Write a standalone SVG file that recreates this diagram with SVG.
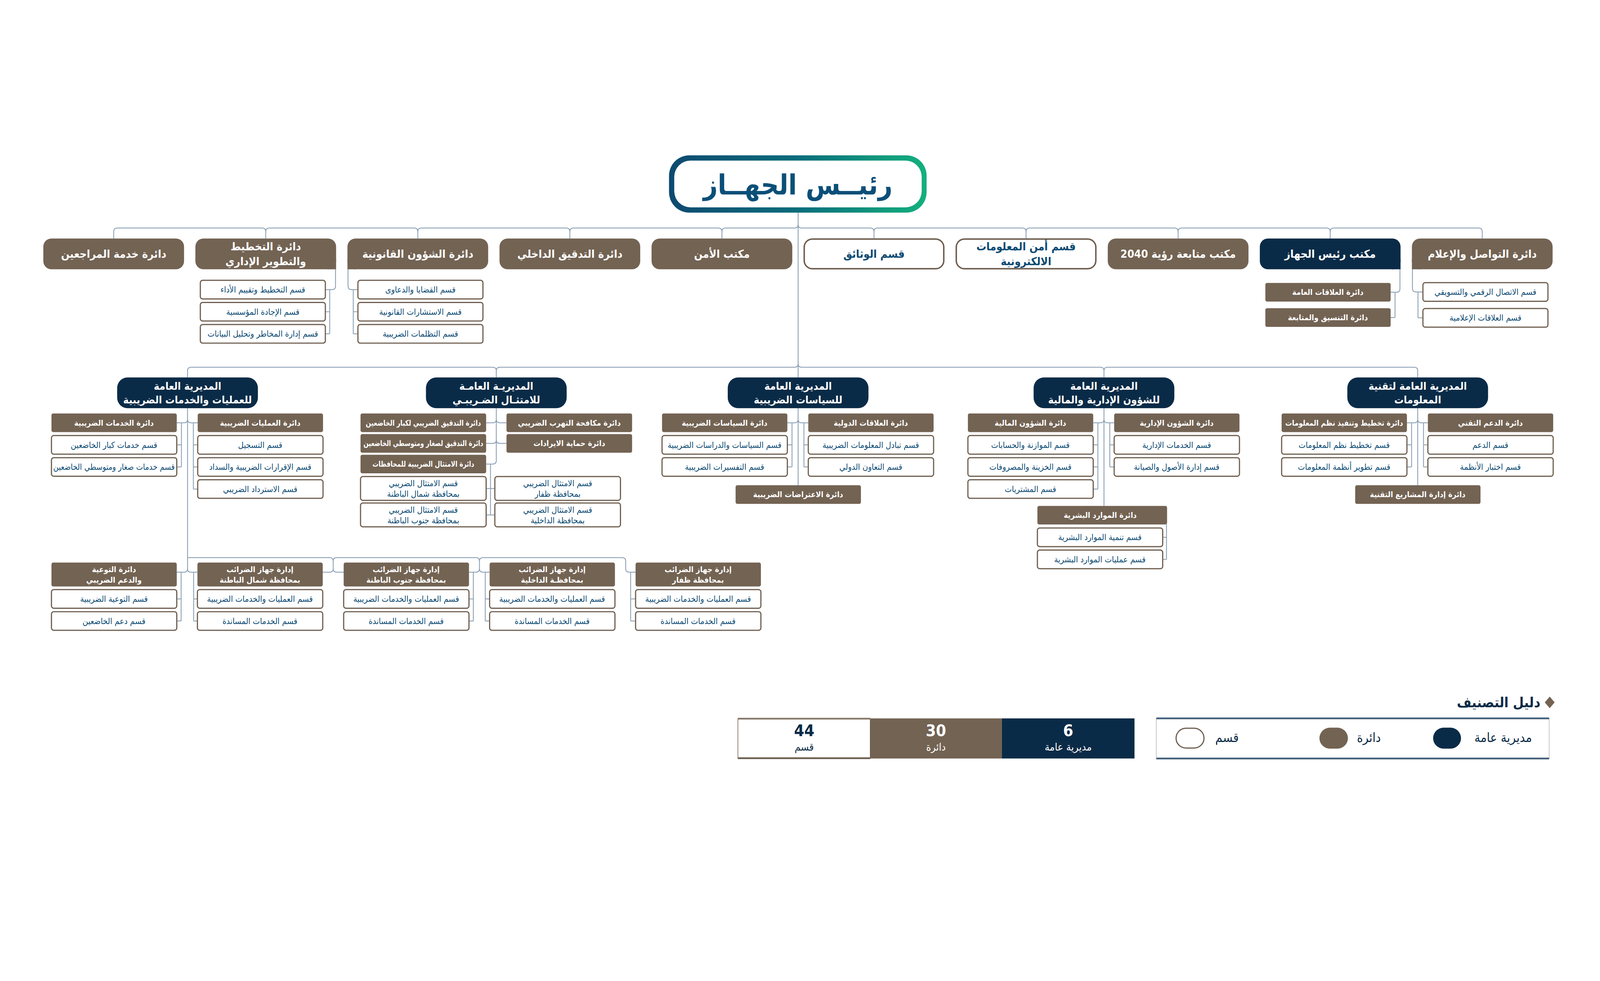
<svg xmlns="http://www.w3.org/2000/svg" width="5503" height="2512" viewBox="0 0 5503 2512" style="width:100%;height:100%">
<defs>
<linearGradient id="tg" x1="0" y1="0" x2="1" y2="0">
<stop offset="0" stop-color="#0d4a70"/>
<stop offset="0.5" stop-color="#0b6d7c"/>
<stop offset="1" stop-color="#14b07d"/>
</linearGradient>
<style>
.t{font-family:"DejaVu Sans Condensed","DejaVu Sans",sans-serif;text-anchor:middle;dominant-baseline:central}
.w{fill:#ffffff}
.bl{fill:#0b4a73}
.nv{fill:#0a2b47}
.br{fill:#736353}
.f1{font-size:38px;font-weight:bold}
.f2{font-size:36px;font-weight:bold}
.f3{font-size:27px;font-weight:bold}
.f4{font-size:29px}
.sec{fill:#ffffff;stroke:#6e5e4f;stroke-width:4}
.big{fill:#ffffff;stroke:#6e5e4f;stroke-width:5}
.ln{fill:none;stroke:#8ea2b6;stroke-width:3}
.lg{font-size:44px}
</style>
</defs>
<rect width="5503" height="2512" fill="#ffffff"/>

<g id="connectors" class="ln">
<path d="M2745,300 V868"/>
<path d="M391,389 V365 Q391,353 403,353 H902 Q914,353 914,365 V389 M914,365 Q914,353 926,353 H1425 Q1437,353 1437,365 V389 M1437,365 Q1437,353 1449,353 H1948 Q1960,353 1960,365 V389 M1960,365 Q1960,353 1972,353 H2471 Q2483,353 2483,365 V389 M2483,365 Q2483,353 2495,353 H2733 Q2745,353 2745,341 M2745,341 Q2745,353 2757,353 H2994 Q3006,353 3006,365 V389 M3006,365 Q3006,353 3018,353 H3517 Q3529,353 3529,365 V389 M3529,365 Q3529,353 3541,353 H4040 Q4052,353 4052,365 V389 M4052,365 Q4052,353 4064,353 H4563 Q4575,353 4575,365 V389 M4575,365 Q4575,353 4587,353 H5086 Q5098,353 5098,365 V389"/>
<path d="M1154,495 V553 Q1154,565 1142,565 H1119 M1134,565 V717 M1134,641 H1119 M1134,717 H1119"/>
<path d="M1197,495 V553 Q1197,565 1209,565 H1231 M1215,565 V717 M1215,641 H1231 M1215,717 H1231"/>
<path d="M4815,495 V562 Q4815,574 4803,574 H4783 M4798,574 V661 M4798,661 H4783"/>
<path d="M4858,495 V561 Q4858,573 4870,573 H4894 M4877,573 V662 M4877,662 H4894"/>
<path d="M645,867 V844 Q645,832 657,832 H1695 Q1707,832 1707,844 V867 M1707,844 Q1707,832 1719,832 H2733 Q2745,832 2745,820 M2745,820 Q2745,832 2757,832 H3785 Q3797,832 3797,844 V867 M3797,844 Q3797,832 3809,832 H4864 Q4876,832 4876,844 V867"/>
<path d="M645,973 V1525 Q645,1537 633,1537 H608 M645,1525 Q645,1537 657,1537 H679"/>
<path d="M645,1011 Q645,1023 633,1023 H608 M645,1011 Q645,1023 657,1023 H680"/>
<path d="M624,1023 V1175 M624,1099 H608 M624,1175 H608 M665,1023 V1251 M665,1099 H680 M665,1175 H680 M665,1251 H680"/>
<path d="M645,1487 H1134 Q1146,1487 1146,1499 V1525 Q1146,1537 1134,1537 H1110 M1146,1525 Q1146,1537 1158,1537 H1182 M1146,1499 Q1146,1487 1158,1487 H1637 Q1649,1487 1649,1499 V1525 Q1649,1537 1637,1537 H1613 M1649,1525 Q1649,1537 1661,1537 H1684 M1649,1499 Q1649,1487 1661,1487 H2140 Q2152,1487 2152,1499 V1525 Q2152,1537 2164,1537 H2186"/>
<path d="M623,1537 V1705 M623,1629 H608 M623,1705 H608"/>
<path d="M666,1537 V1705 M666,1629 H679 M666,1705 H679"/>
<path d="M1628,1537 V1705 M1628,1629 H1613 M1628,1705 H1613"/>
<path d="M1669,1537 V1705 M1669,1629 H1684 M1669,1705 H1684"/>
<path d="M2169,1537 V1705 M2169,1629 H2186 M2169,1705 H2186"/>
<path d="M1707,973 V1153 Q1707,1165 1695,1165 H1672 M1707,1011 Q1707,1023 1695,1023 H1672 M1707,1011 Q1707,1023 1719,1023 H1742 M1707,1082 Q1707,1094 1695,1094 H1672 M1707,1082 Q1707,1094 1719,1094 H1742"/>
<path d="M1687,1165 V1340 M1672,1249 H1702 M1672,1340 H1702"/>
<path d="M2745,973 V1238 M2745,1011 Q2745,1023 2733,1023 H2708 M2745,1011 Q2745,1023 2757,1023 H2780"/>
<path d="M2724,1023 V1175 M2724,1099 H2708 M2724,1175 H2708 M2765,1023 V1175 M2765,1099 H2780 M2765,1175 H2780"/>
<path d="M3797,973 V1309 M3797,1011 Q3797,1023 3785,1023 H3760 M3797,1011 Q3797,1023 3809,1023 H3832"/>
<path d="M3776,1023 V1251 M3776,1099 H3760 M3776,1175 H3760 M3776,1251 H3760 M3817,1023 V1175 M3817,1099 H3832 M3817,1175 H3832"/>
<path d="M4012,1372 V1493 M4012,1417 H3999 M4012,1493 H3999"/>
<path d="M4876,973 V1238 M4876,1011 Q4876,1023 4864,1023 H4839 M4876,1011 Q4876,1023 4888,1023 H4911"/>
<path d="M4855,1023 V1175 M4855,1099 H4839 M4855,1175 H4839 M4896,1023 V1175 M4896,1099 H4911 M4896,1175 H4911"/>
</g>

<g id="head">
<rect x="2301" y="103" width="886" height="197" rx="70" fill="url(#tg)"/>
<rect x="2319" y="121" width="851" height="161" rx="56" fill="#ffffff"/>
<text class="t" x="2744" y="205" style="font-size:96px;font-weight:bold;fill:#0b4f78">رئيــس الجهــاز</text>
</g>

<g id="n-clients"><rect x="149" y="389" width="484" height="106" rx="28" class="br"/><text class="t w f1" x="391" y="442">دائرة خدمة المراجعين</text></g>
<g id="n-planning"><rect x="672" y="389" width="484" height="106" rx="28" class="br"/><rect x="1126" y="460" width="30" height="35" class="br"/><text class="t w f1" x="914" y="417">دائرة التخطيط</text><text class="t w f1" x="914" y="468">والتطوير الإداري</text></g>
<g id="n-legal"><rect x="1195" y="389" width="484" height="106" rx="28" class="br"/><rect x="1195" y="460" width="30" height="35" class="br"/><text class="t w f1" x="1437" y="442">دائرة الشؤون القانونية</text></g>
<g id="n-audit"><rect x="1718" y="389" width="484" height="106" rx="28" class="br"/><text class="t w f1" x="1960" y="442">دائرة التدقيق الداخلي</text></g>
<g id="n-security"><rect x="2241" y="389" width="484" height="106" rx="28" class="br"/><text class="t w f1" x="2483" y="442">مكتب الأمن</text></g>
<g id="n-docs"><rect x="2766" y="391" width="480" height="102" rx="28" class="big"/><text class="t bl f1" x="3006" y="442">قسم الوثائق</text></g>
<g id="n-infosec"><rect x="3289" y="391" width="480" height="102" rx="28" class="big"/><text class="t bl f1" x="3529" y="417">قسم أمن المعلومات</text><text class="t bl f1" x="3529" y="468">الالكترونية</text></g>
<g id="n-vision"><rect x="3810" y="389" width="484" height="106" rx="28" class="br"/><text class="t w f1" x="4052" y="442">مكتب متابعة رؤية 2040</text></g>
<g id="n-office"><rect x="4333" y="389" width="484" height="106" rx="28" class="nv"/><rect x="4787" y="460" width="30" height="35" class="nv"/><text class="t w f1" x="4575" y="442">مكتب رئيس الجهاز</text></g>
<g id="n-comms"><rect x="4856" y="389" width="484" height="106" rx="28" class="br"/><rect x="4856" y="460" width="30" height="35" class="br"/><text class="t w f1" x="5098" y="442">دائرة التواصل والإعلام</text></g>

<g id="s-plan1"><rect x="689" y="533" width="430" height="64" rx="8" class="sec"/><text class="t bl f4" x="904" y="565">قسم التخطيط وتقييم الأداء</text></g>
<g id="s-plan2"><rect x="689" y="609" width="430" height="64" rx="8" class="sec"/><text class="t bl f4" x="904" y="641">قسم الإجادة المؤسسية</text></g>
<g id="s-plan3"><rect x="689" y="685" width="430" height="64" rx="8" class="sec"/><text class="t bl f4" x="904" y="717">قسم إدارة المخاطر وتحليل البيانات</text></g>
<g id="s-legal1"><rect x="1231" y="533" width="430" height="64" rx="8" class="sec"/><text class="t bl f4" x="1446" y="565">قسم القضايا والدعاوى</text></g>
<g id="s-legal2"><rect x="1231" y="609" width="430" height="64" rx="8" class="sec"/><text class="t bl f4" x="1446" y="641">قسم الاستشارات القانونية</text></g>
<g id="s-legal3"><rect x="1231" y="685" width="430" height="64" rx="8" class="sec"/><text class="t bl f4" x="1446" y="717">قسم التظلمات الضريبية</text></g>
<g id="s-office1"><rect x="4352" y="542" width="431" height="64" rx="6" class="br"/><text class="t w f3" x="4567" y="574">دائرة العلاقات العامة</text></g>
<g id="s-office2"><rect x="4352" y="629" width="431" height="64" rx="6" class="br"/><text class="t w f3" x="4567" y="661">دائرة التنسيق والمتابعة</text></g>
<g id="s-comms1"><rect x="4894" y="541" width="430" height="64" rx="8" class="sec"/><text class="t bl f4" x="5109" y="573">قسم الاتصال الرقمي والتسويقي</text></g>
<g id="s-comms2"><rect x="4894" y="630" width="430" height="64" rx="8" class="sec"/><text class="t bl f4" x="5109" y="662">قسم العلاقات الإعلامية</text></g>

<g id="gd-ops"><rect x="403" y="867" width="484" height="106" rx="36" class="nv"/><text class="t w f2" x="645" y="897">المديرية العامة</text><text class="t w f2" x="645" y="943">للعمليات والخدمات الضريبية</text></g>
<g id="gd-comp"><rect x="1465" y="867" width="484" height="106" rx="36" class="nv"/><text class="t w f2" x="1707" y="897">المديريـة العامـة</text><text class="t w f2" x="1707" y="943">للامتثـال الضـريبـي</text></g>
<g id="gd-pol"><rect x="2503" y="867" width="484" height="106" rx="36" class="nv"/><text class="t w f2" x="2745" y="897">المديرية العامة</text><text class="t w f2" x="2745" y="943">للسياسات الضريبية</text></g>
<g id="gd-adm"><rect x="3555" y="867" width="484" height="106" rx="36" class="nv"/><text class="t w f2" x="3797" y="897">المديرية العامة</text><text class="t w f2" x="3797" y="943">للشؤون الإدارية والمالية</text></g>
<g id="gd-it"><rect x="4634" y="867" width="484" height="106" rx="36" class="nv"/><text class="t w f2" x="4876" y="897">المديرية العامة لتقنية</text><text class="t w f2" x="4876" y="943">المعلومات</text></g>

<g id="d-ops-serv"><rect x="177" y="991" width="431" height="64" rx="6" class="br"/><text class="t w f3" x="392" y="1023">دائرة الخدمات الضريبية</text></g>
<g id="s-ops-1"><rect x="177" y="1067" width="431" height="64" rx="8" class="sec"/><text class="t bl f4" x="392" y="1099">قسم خدمات كبار الخاضعين</text></g>
<g id="s-ops-2"><rect x="177" y="1143" width="431" height="64" rx="8" class="sec"/><text class="t bl f4" x="392" y="1175" textLength="418" lengthAdjust="spacingAndGlyphs">قسم خدمات صغار ومتوسطي الخاضعين</text></g>
<g id="d-ops-op"><rect x="680" y="991" width="431" height="64" rx="6" class="br"/><text class="t w f3" x="895" y="1023">دائرة العمليات الضريبية</text></g>
<g id="s-ops-3"><rect x="680" y="1067" width="431" height="64" rx="8" class="sec"/><text class="t bl f4" x="895" y="1099">قسم التسجيل</text></g>
<g id="s-ops-4"><rect x="680" y="1143" width="431" height="64" rx="8" class="sec"/><text class="t bl f4" x="895" y="1175">قسم الإقرارات الضريبية والسداد</text></g>
<g id="s-ops-5"><rect x="680" y="1219" width="431" height="64" rx="8" class="sec"/><text class="t bl f4" x="895" y="1251">قسم الاسترداد الضريبي</text></g>

<g id="r-aware"><rect x="177" y="1504" width="431" height="82" rx="6" class="br"/><text class="t w f3" x="392" y="1527">دائرة التوعية</text><text class="t w f3" x="392" y="1564">والدعم الضريبي</text></g>
<g id="r-aware-1"><rect x="177" y="1597" width="431" height="64" rx="8" class="sec"/><text class="t bl f4" x="392" y="1629">قسم التوعية الضريبية</text></g>
<g id="r-aware-2"><rect x="177" y="1673" width="431" height="64" rx="8" class="sec"/><text class="t bl f4" x="392" y="1705">قسم دعم الخاضعين</text></g>
<g id="r-nb"><rect x="679" y="1504" width="431" height="82" rx="6" class="br"/><text class="t w f3" x="894" y="1527">إدارة جهاز الضرائب</text><text class="t w f3" x="894" y="1564">بمحافظة شمال الباطنة</text></g>
<g id="r-nb-1"><rect x="679" y="1597" width="431" height="64" rx="8" class="sec"/><text class="t bl f4" x="894" y="1629">قسم العمليات والخدمات الضريبية</text></g>
<g id="r-nb-2"><rect x="679" y="1673" width="431" height="64" rx="8" class="sec"/><text class="t bl f4" x="894" y="1705">قسم الخدمات المساندة</text></g>
<g id="r-sb"><rect x="1182" y="1504" width="431" height="82" rx="6" class="br"/><text class="t w f3" x="1397" y="1527">إدارة جهاز الضرائب</text><text class="t w f3" x="1397" y="1564">بمحافظة جنوب الباطنة</text></g>
<g id="r-sb-1"><rect x="1182" y="1597" width="431" height="64" rx="8" class="sec"/><text class="t bl f4" x="1397" y="1629">قسم العمليات والخدمات الضريبية</text></g>
<g id="r-sb-2"><rect x="1182" y="1673" width="431" height="64" rx="8" class="sec"/><text class="t bl f4" x="1397" y="1705">قسم الخدمات المساندة</text></g>
<g id="r-dk"><rect x="1684" y="1504" width="431" height="82" rx="6" class="br"/><text class="t w f3" x="1899" y="1527">إدارة جهاز الضرائب</text><text class="t w f3" x="1899" y="1564">بمحافظـة الداخلية</text></g>
<g id="r-dk-1"><rect x="1684" y="1597" width="431" height="64" rx="8" class="sec"/><text class="t bl f4" x="1899" y="1629">قسم العمليات والخدمات الضريبية</text></g>
<g id="r-dk-2"><rect x="1684" y="1673" width="431" height="64" rx="8" class="sec"/><text class="t bl f4" x="1899" y="1705">قسم الخدمات المساندة</text></g>
<g id="r-dh"><rect x="2186" y="1504" width="431" height="82" rx="6" class="br"/><text class="t w f3" x="2401" y="1527">إدارة جهاز الضرائب</text><text class="t w f3" x="2401" y="1564">بمحافظة ظفار</text></g>
<g id="r-dh-1"><rect x="2186" y="1597" width="431" height="64" rx="8" class="sec"/><text class="t bl f4" x="2401" y="1629">قسم العمليات والخدمات الضريبية</text></g>
<g id="r-dh-2"><rect x="2186" y="1673" width="431" height="64" rx="8" class="sec"/><text class="t bl f4" x="2401" y="1705">قسم الخدمات المساندة</text></g>

<g id="d-comp-1"><rect x="1240" y="991" width="432" height="64" rx="6" class="br"/><text class="t w f3" x="1456" y="1023" textLength="396" lengthAdjust="spacingAndGlyphs">دائرة التدقيق الضريبي لكبار الخاضعين</text></g>
<g id="d-comp-2"><rect x="1240" y="1062" width="432" height="64" rx="6" class="br"/><text class="t w f3" x="1456" y="1094" textLength="412" lengthAdjust="spacingAndGlyphs">دائرة التدقيق لصغار ومتوسطي الخاضعين</text></g>
<g id="d-comp-3"><rect x="1240" y="1133" width="432" height="64" rx="6" class="br"/><text class="t w f3" x="1456" y="1165" textLength="350" lengthAdjust="spacingAndGlyphs">دائرة الامتثال الضريبية للمحافظات</text></g>
<g id="d-comp-4"><rect x="1742" y="991" width="432" height="64" rx="6" class="br"/><text class="t w f3" x="1958" y="1023">دائرة مكافحة التهرب الضريبي</text></g>
<g id="d-comp-5"><rect x="1742" y="1062" width="432" height="64" rx="6" class="br"/><text class="t w f3" x="1958" y="1094">دائرة حماية الايرادات</text></g>
<g id="s-comp-1"><rect x="1240" y="1208" width="432" height="82" rx="8" class="sec"/><text class="t bl f4" x="1456" y="1231">قسم الامتثال الضريبي</text><text class="t bl f4" x="1456" y="1268">بمحافظة شمال الباطنة</text></g>
<g id="s-comp-2"><rect x="1240" y="1299" width="432" height="82" rx="8" class="sec"/><text class="t bl f4" x="1456" y="1322">قسم الامتثال الضريبي</text><text class="t bl f4" x="1456" y="1359">بمحافظة جنوب الباطنة</text></g>
<g id="s-comp-3"><rect x="1702" y="1208" width="432" height="82" rx="8" class="sec"/><text class="t bl f4" x="1918" y="1231">قسم الامتثال الضريبي</text><text class="t bl f4" x="1918" y="1268">بمحافظة ظفار</text></g>
<g id="s-comp-4"><rect x="1702" y="1299" width="432" height="82" rx="8" class="sec"/><text class="t bl f4" x="1918" y="1322">قسم الامتثال الضريبي</text><text class="t bl f4" x="1918" y="1359">بمحافظة الداخلية</text></g>

<g id="d-pol-1"><rect x="2277" y="991" width="431" height="64" rx="6" class="br"/><text class="t w f3" x="2492" y="1023">دائرة السياسات الضريبية</text></g>
<g id="s-pol-1"><rect x="2277" y="1067" width="431" height="64" rx="8" class="sec"/><text class="t bl f4" x="2492" y="1099">قسم السياسات والدراسات الضريبية</text></g>
<g id="s-pol-2"><rect x="2277" y="1143" width="431" height="64" rx="8" class="sec"/><text class="t bl f4" x="2492" y="1175">قسم التفسيرات الضريبية</text></g>
<g id="d-pol-2"><rect x="2780" y="991" width="431" height="64" rx="6" class="br"/><text class="t w f3" x="2995" y="1023">دائرة العلاقات الدولية</text></g>
<g id="s-pol-3"><rect x="2780" y="1067" width="431" height="64" rx="8" class="sec"/><text class="t bl f4" x="2995" y="1099">قسم تبادل المعلومات الضريبية</text></g>
<g id="s-pol-4"><rect x="2780" y="1143" width="431" height="64" rx="8" class="sec"/><text class="t bl f4" x="2995" y="1175">قسم التعاون الدولي</text></g>
<g id="d-pol-3"><rect x="2530" y="1238" width="431" height="64" rx="6" class="br"/><text class="t w f3" x="2745" y="1270">دائرة الاعتراضات الضريبية</text></g>

<g id="d-adm-1"><rect x="3329" y="991" width="431" height="64" rx="6" class="br"/><text class="t w f3" x="3544" y="1023">دائرة الشؤون المالية</text></g>
<g id="s-adm-1"><rect x="3329" y="1067" width="431" height="64" rx="8" class="sec"/><text class="t bl f4" x="3544" y="1099">قسم الموازنة والحسابات</text></g>
<g id="s-adm-2"><rect x="3329" y="1143" width="431" height="64" rx="8" class="sec"/><text class="t bl f4" x="3544" y="1175">قسم الخزينة والمصروفات</text></g>
<g id="s-adm-3"><rect x="3329" y="1219" width="431" height="64" rx="8" class="sec"/><text class="t bl f4" x="3544" y="1251">قسم المشتريات</text></g>
<g id="d-adm-2"><rect x="3832" y="991" width="431" height="64" rx="6" class="br"/><text class="t w f3" x="4047" y="1023">دائرة الشؤون الإدارية</text></g>
<g id="s-adm-4"><rect x="3832" y="1067" width="431" height="64" rx="8" class="sec"/><text class="t bl f4" x="4047" y="1099">قسم الخدمات الإدارية</text></g>
<g id="s-adm-5"><rect x="3832" y="1143" width="431" height="64" rx="8" class="sec"/><text class="t bl f4" x="4047" y="1175">قسم إدارة الأصول والصيانة</text></g>
<g id="d-adm-hr"><rect x="3568" y="1309" width="446" height="64" rx="6" class="br"/><text class="t w f3" x="3784" y="1341">دائرة الموارد البشرية</text></g>
<g id="s-adm-6"><rect x="3568" y="1385" width="431" height="64" rx="8" class="sec"/><text class="t bl f4" x="3783" y="1417">قسم تنمية الموارد البشرية</text></g>
<g id="s-adm-7"><rect x="3568" y="1461" width="431" height="64" rx="8" class="sec"/><text class="t bl f4" x="3783" y="1493">قسم عمليات الموارد البشرية</text></g>

<g id="d-it-1"><rect x="4408" y="991" width="431" height="64" rx="6" class="br"/><text class="t w f3" x="4623" y="1023" textLength="405" lengthAdjust="spacingAndGlyphs">دائرة تخطيط وتنفيذ نظم المعلومات</text></g>
<g id="s-it-1"><rect x="4408" y="1067" width="431" height="64" rx="8" class="sec"/><text class="t bl f4" x="4623" y="1099">قسم تخطيط نظم المعلومات</text></g>
<g id="s-it-2"><rect x="4408" y="1143" width="431" height="64" rx="8" class="sec"/><text class="t bl f4" x="4623" y="1175">قسم تطوير أنظمة المعلومات</text></g>
<g id="d-it-2"><rect x="4911" y="991" width="431" height="64" rx="6" class="br"/><text class="t w f3" x="5126" y="1023">دائرة الدعم التقني</text></g>
<g id="s-it-3"><rect x="4911" y="1067" width="431" height="64" rx="8" class="sec"/><text class="t bl f4" x="5126" y="1099">قسم الدعم</text></g>
<g id="s-it-4"><rect x="4911" y="1143" width="431" height="64" rx="8" class="sec"/><text class="t bl f4" x="5126" y="1175">قسم اختبار الأنظمة</text></g>
<g id="d-it-3"><rect x="4661" y="1238" width="431" height="64" rx="6" class="br"/><text class="t w f3" x="4876" y="1270">دائرة إدارة المشاريع التقنية</text></g>

<g id="legend-title">
<polygon points="5330,1965 5347,1985 5330,2005 5313,1985" class="br"/>
<text class="t nv" x="5298" y="1985" style="text-anchor:end;font-size:48px;font-weight:bold">دليل التصنيف</text>
</g>
<g id="legend-key">
<rect x="3977" y="2040" width="1351" height="138" fill="#ffffff" stroke="#b0b8c0" stroke-width="2"/>
<line x1="3977" y1="2040" x2="5328" y2="2040" stroke="#44607b" stroke-width="6"/>
<line x1="3977" y1="2178" x2="5328" y2="2178" stroke="#44607b" stroke-width="6"/>
<rect x="4929" y="2072" width="96" height="72" rx="36" class="nv"/>
<text class="t nv lg" x="5170" y="2107">مديرية عامة</text>
<rect x="4538" y="2072" width="98" height="72" rx="36" class="br"/>
<text class="t nv lg" x="4708" y="2107">دائرة</text>
<rect x="4045" y="2074" width="96" height="68" rx="34" fill="#ffffff" stroke="#6e5e4f" stroke-width="4"/>
<text class="t nv lg" x="4220" y="2107">قسم</text>
</g>
<g id="legend-stats">
<rect x="2538" y="2040" width="455" height="138" fill="#ffffff" stroke="#6e5e4f" stroke-width="2"/>
<line x1="2538" y1="2041" x2="2993" y2="2041" stroke="#8a7b6c" stroke-width="6"/>
<line x1="2538" y1="2177" x2="2993" y2="2177" stroke="#6e5e4f" stroke-width="6"/>
<rect x="2993" y="2040" width="453" height="138" class="br"/>
<rect x="3446" y="2040" width="456" height="138" class="nv"/>
<text class="t nv" x="2766" y="2082" style="font-size:56px;font-weight:bold">44</text>
<text class="t nv" x="2766" y="2138" style="font-size:36px">قسم</text>
<text class="t w" x="3219" y="2082" style="font-size:56px;font-weight:bold">30</text>
<text class="t w" x="3219" y="2138" style="font-size:36px">دائرة</text>
<text class="t w" x="3674" y="2082" style="font-size:56px;font-weight:bold">6</text>
<text class="t w" x="3674" y="2138" style="font-size:36px">مديرية عامة</text>
</g>
</svg>
